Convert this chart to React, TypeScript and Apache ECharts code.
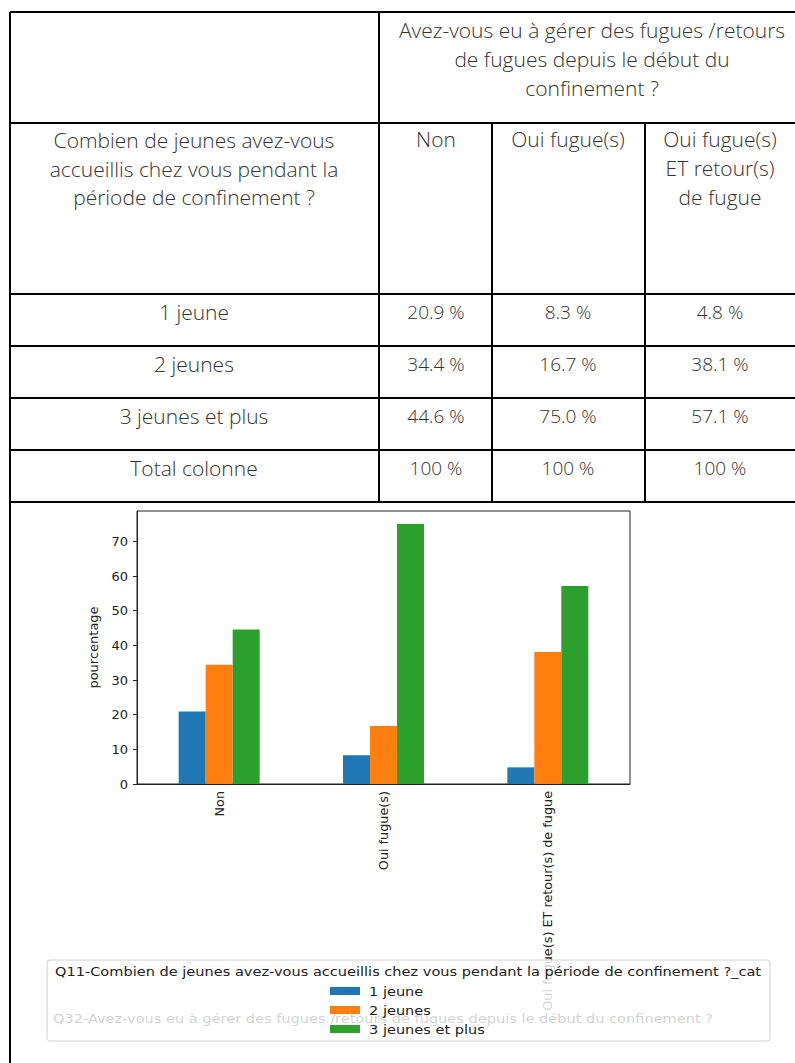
import React, { useEffect, useRef } from "react";
import * as echarts from "echarts";

// ---------- data ----------
const categories = ["Non", "Oui fugue(s)", "Oui fugue(s) ET retour(s) de fugue"];
const seriesNames = ["1 jeune", "2 jeunes", "3 jeunes et plus"];
const unJeune = [20.9, 8.3, 4.8];
const deuxJeunes = [34.4, 16.7, 38.1];
const troisJeunesEtPlus = [44.6, 75.0, 57.1];
const totalColonne = ["100 %", "100 %", "100 %"];
const rowLabels = ["1 jeune", "2 jeunes", "3 jeunes et plus", "Total colonne"];
const headerQuestion = ["Avez-vous eu à gérer des fugues /retours", "de fugues depuis le début du", "confinement ?"];
const rowQuestion = ["Combien de jeunes avez-vous", "accueillis chez vous pendant la", "période de confinement ?"];
const colHeaders = [["Non"], ["Oui fugue(s)"], ["Oui fugue(s)", "ET retour(s)", "de fugue"]];
const yAxisName = "pourcentage";
const xAxisName = "Q32-Avez-vous eu à gérer des fugues /retours de fugues depuis le début du confinement ?";
const legendTitle = "Q11-Combien de jeunes avez-vous accueillis chez vous pendant la période de confinement ?_cat";
const yMax = 78.75;
const colors = ["#1f77b4", "#ff7f0e", "#2ca02c"];

const FAMILY = "'Open Sans', 'Noto Sans', sans-serif";
const TABLE_FONT = `300 21px ${FAMILY}`;
const VALUE_FONT = `300 19px ${FAMILY}`;
const TEXT_COLOR = "#333";
const MPL_FONT = "'DejaVu Sans', sans-serif";

export default function App() {
  const ref = useRef<HTMLDivElement>(null);

  useEffect(() => {
    if (!ref.current) return;
    const chart = echarts.init(ref.current, undefined, { renderer: "svg" });

    const values = [unJeune, deuxJeunes, troisJeunesEtPlus];
    const g: any[] = [];
    const line = (x1: number, y1: number, x2: number, y2: number) =>
      g.push({ type: "line", z: 30, shape: { x1, y1, x2, y2 }, style: { stroke: "#000", lineWidth: 2 } });
    const txt = (
      text: string, x: number, y: number, font = TABLE_FONT, z = 30,
      fill = TEXT_COLOR, align = "center", scaleX = 1,
    ) =>
      g.push({
        type: "text", z, x, y, scaleX,
        style: { text, x: 0, y: 0, align, verticalAlign: "middle", font, fill },
      });

    // table grid
    const L = 10, R = 800, colX = [379, 492, 645];
    const rowY = [12, 123, 294, 346, 398, 450, 502];
    rowY.forEach((y) => line(L, y, R, y));
    line(L, 12, L, 1063);
    line(colX[0], 12, colX[0], 502);
    line(colX[1], 123, colX[1], 502);
    line(colX[2], 123, colX[2], 502);

    const cx = [194, 436, 568, 720];
    headerQuestion.forEach((t, i) => txt(t, 592, 30 + i * 28.8));
    rowQuestion.forEach((t, i) => txt(t, cx[0], 140 + i * 28.5));
    colHeaders.forEach((lines, c) => lines.forEach((t, i) => txt(t, cx[c + 1], 139 + i * 29)));
    const dataY = [312, 364, 416, 468];
    rowLabels.forEach((t, r) => {
      txt(t, cx[0], dataY[r]);
      for (let c = 0; c < 3; c++) {
        const s = r < 3 ? `${values[r][c].toFixed(1)} %` : totalColonne[c];
        txt(s, cx[c + 1], dataY[r], VALUE_FONT);
      }
    });

    // x-axis title (sits under the semi-transparent legend box)
    const SX = 1.12;
    txt(xAxisName, 383, 1018, `13px ${MPL_FONT}`, 5, "#222", "center", SX);

    // legend (matplotlib style, drawn over axis labels)
    g.push({
      type: "rect", z: 40,
      shape: { x: 47, y: 960, width: 723, height: 81, r: 3 },
      style: { fill: "rgba(255,255,255,0.8)", stroke: "#d0d0d0", lineWidth: 1 },
    });
    txt(legendTitle, 408, 971, `13px ${MPL_FONT}`, 41, "#222", "center", SX);
    seriesNames.forEach((n, i) => {
      const y = 991 + i * 19;
      g.push({ type: "rect", z: 41, shape: { x: 330, y: y - 4, width: 30, height: 8 }, style: { fill: colors[i] } });
      txt(n, 369, y, `13px ${MPL_FONT}`, 41, "#222", "left", SX);
    });

    chart.setOption({
      animation: false,
      backgroundColor: "#fff",
      grid: {
        left: 137, top: 511, width: 493, height: 273,
        show: true, borderColor: "#222", borderWidth: 1, containLabel: false,
      },
      xAxis: {
        type: "category",
        data: categories,
        axisLine: { lineStyle: { color: "#222" } },
        axisTick: { alignWithLabel: true, length: 4, lineStyle: { color: "#222" } },
        axisLabel: { rotate: 90, margin: 7, fontFamily: MPL_FONT, fontSize: 12.8, color: "#222" },
        splitLine: { show: false },
      },
      yAxis: {
        type: "value",
        min: 0, max: yMax, interval: 10,
        name: yAxisName,
        nameLocation: "middle",
        nameRotate: 90,
        nameGap: 37,
        nameTextStyle: { fontFamily: MPL_FONT, fontSize: 13, color: "#222" },
        axisLine: { show: true, lineStyle: { color: "#222" } },
        axisTick: { show: true, length: 4, lineStyle: { color: "#222" } },
        axisLabel: { margin: 9, fontFamily: MPL_FONT, fontSize: 13, color: "#222", showMaxLabel: false },
        splitLine: { show: false },
      },
      series: values.map((v, i) => ({
        type: "bar",
        name: seriesNames[i],
        data: v,
        barWidth: 27,
        barGap: "0%",
        itemStyle: { color: colors[i] },
      })),
      graphic: g,
    });

    return () => chart.dispose();
  }, []);

  return (
    <div
      ref={ref}
      style={{ position: "absolute", left: 0, top: 0, width: 795, height: 1063, background: "#fff" }}
    />
  );
}
